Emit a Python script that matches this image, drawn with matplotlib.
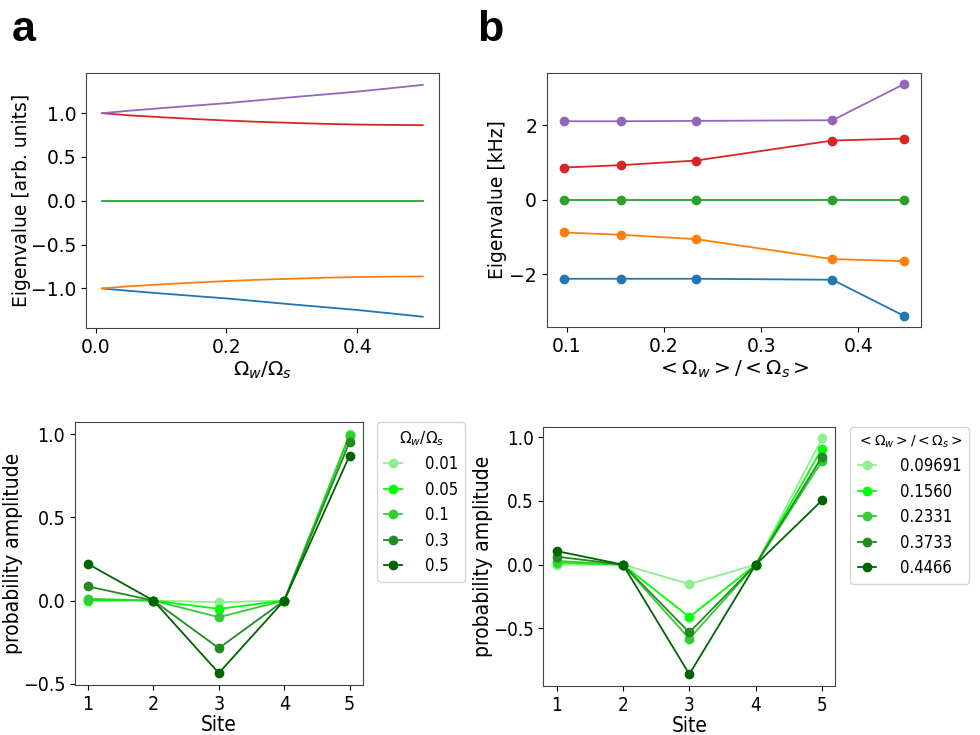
import matplotlib
matplotlib.use("Agg")
import matplotlib.pyplot as plt
from matplotlib import font_manager as fm

# ---- data: panel a (top-left) ----
ratio_a = [0.01, 0.05, 0.1, 0.15, 0.2, 0.25, 0.3, 0.35, 0.4, 0.45, 0.5]
eig_a_purple = [1.0, 1.027, 1.057, 1.086, 1.114, 1.148, 1.182, 1.214, 1.246, 1.284, 1.323]
eig_a_red = [1.0, 0.976, 0.954, 0.934, 0.916, 0.901, 0.889, 0.878, 0.870, 0.866, 0.863]
eig_a_green = [0.0] * 11
eig_a_orange = [-1.0, -0.976, -0.954, -0.934, -0.916, -0.901, -0.889, -0.878, -0.870, -0.866, -0.863]
eig_a_blue = [-1.0, -1.027, -1.057, -1.086, -1.114, -1.148, -1.182, -1.214, -1.246, -1.284, -1.323]

# ---- data: panel b (top-right) ----
ratio_b = [0.09691, 0.1560, 0.2331, 0.3733, 0.4466]
eig_b_purple = [2.107, 2.107, 2.116, 2.134, 3.098]
eig_b_red = [0.866, 0.929, 1.054, 1.589, 1.643]
eig_b_green = [0.0, 0.0, 0.0, 0.0, 0.0]
eig_b_orange = [-0.875, -0.938, -1.054, -1.589, -1.643]
eig_b_blue = [-2.116, -2.116, -2.116, -2.143, -3.107]

# ---- data: bottom-left ----
sites = [1, 2, 3, 4, 5]
labels_c = ["0.01", "0.05", "0.1", "0.3", "0.5"]
amp_c = [
    [0.01, 0.0, -0.01, 0.0, 1.0],
    [0.0, 0.0, -0.05, 0.0, 0.998],
    [0.01, 0.0, -0.10, 0.0, 0.99],
    [0.085, 0.0, -0.286, 0.0, 0.954],
    [0.22, 0.0, -0.436, 0.0, 0.872],
]

# ---- data: bottom-right ----
labels_d = ["0.09691", "0.1560", "0.2331", "0.3733", "0.4466"]
amp_d = [
    [0.0, 0.0, -0.152, 0.0, 0.99],
    [0.016, 0.0, -0.411, 0.0, 0.911],
    [0.03, 0.0, -0.581, 0.0, 0.814],
    [0.063, 0.0, -0.531, 0.0, 0.848],
    [0.107, 0.0, -0.859, 0.0, 0.505],
]

greens = ["lightgreen", "lime", "limegreen", "forestgreen", "darkgreen"]
tab = ["tab:blue", "tab:orange", "tab:green", "tab:red", "tab:purple"]

cond_path = None
for f in fm.fontManager.ttflist:
    if f.fname.endswith("DejaVuSansCondensed.ttf"):
        cond_path = f.fname
        break


def cfp(size):
    if cond_path:
        return fm.FontProperties(fname=cond_path, size=size)
    return fm.FontProperties(family="DejaVu Sans", size=size)


fig = plt.figure(figsize=(9.8, 7.35), dpi=100)

# panel a
ax1 = fig.add_axes([0.0878, 0.5533, 0.360, 0.347])
for ys, c in zip([eig_a_blue, eig_a_orange, eig_a_green, eig_a_red, eig_a_purple], tab):
    ax1.plot(ratio_a, ys, color=c, lw=1.3)
ax1.set_xticks([0.0, 0.2, 0.4])
ax1.set_yticks([-1.0, -0.5, 0.0, 0.5, 1.0])
ax1.tick_params(labelsize=13.5)
ax1.set_xlabel(r"$\Omega_w/\Omega_s$", fontsize=14.5, labelpad=2)
ax1.set_ylabel("Eigenvalue [arb. units]", fontsize=13.5, labelpad=0)

# panel b
ax2 = fig.add_axes([0.5579, 0.5547, 0.3816, 0.3464])
for ys, c in zip([eig_b_blue, eig_b_orange, eig_b_green, eig_b_red, eig_b_purple], tab):
    ax2.plot(ratio_b, ys, color=c, lw=1.3, marker="o", ms=6)
ax2.set_xticks([0.1, 0.2, 0.3, 0.4])
ax2.set_yticks([-2, 0, 2])
ax2.tick_params(labelsize=13.5)
ax2.set_xlabel(r"$<\Omega_w>/<\Omega_s>$", fontsize=14.5, labelpad=2)
ax2.set_ylabel("Eigenvalue [kHz]", fontsize=13.5, labelpad=2)


def style_bottom(ax, ticksize, labsize, legtitle, legsize, titlesize):
    ax.set_xticks(sites)
    ax.set_yticks([-0.5, 0.0, 0.5, 1.0])
    for t in ax.get_xticklabels() + ax.get_yticklabels():
        t.set_fontproperties(cfp(ticksize))
    ax.set_xlabel("Site", fontproperties=cfp(labsize), labelpad=1)
    ax.set_ylabel("probability amplitude", fontproperties=cfp(labsize), labelpad=0)
    leg = ax.legend(title=legtitle, loc="upper left", bbox_to_anchor=(1.05, 1.0),
                    prop=cfp(legsize), title_fontsize=titlesize, handlelength=1.1,
                    handletextpad=1.4, borderaxespad=0, labelspacing=0.45)
    return leg


# bottom-left
ax3 = fig.add_axes([0.0765, 0.068, 0.2936, 0.3574])
for vals, c, lab in zip(amp_c, greens, labels_c):
    ax3.plot(sites, vals, color=c, marker="o", ms=6, lw=1.3, label=lab)
style_bottom(ax3, 14, 15, r"$\Omega_w/\Omega_s$", 12, 11)

# bottom-right
ax4 = fig.add_axes([0.5544, 0.0667, 0.298, 0.3528])
for vals, c, lab in zip(amp_d, greens, labels_d):
    ax4.plot(sites, vals, color=c, marker="o", ms=6, lw=1.3, label=lab)
style_bottom(ax4, 13.5, 15, r"$<\Omega_w>/<\Omega_s>$", 12, 10)

for ax in (ax1, ax2, ax3, ax4):
    for s in ax.spines.values():
        s.set_edgecolor("#444444")

fig.text(0.012, 0.944, "a", fontsize=31, fontweight="bold", family="Liberation Sans")
fig.text(0.487, 0.944, "b", fontsize=31, fontweight="bold", family="Liberation Sans")

fig.savefig("out.png", dpi=100)
